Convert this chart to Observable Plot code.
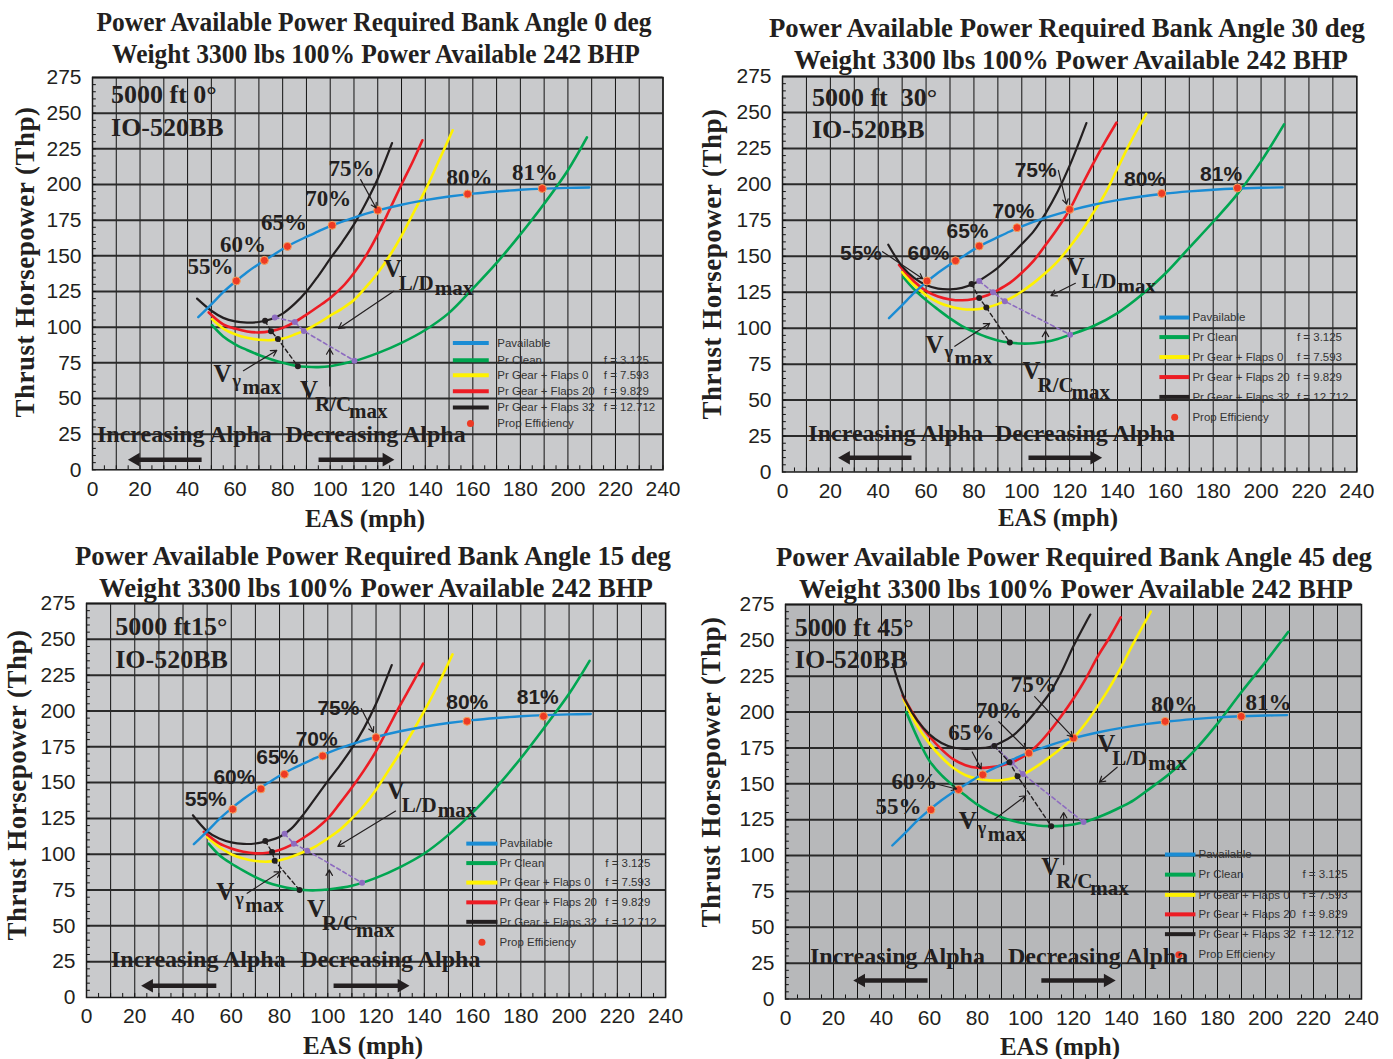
<!DOCTYPE html>
<html><head><meta charset="utf-8">
<script src="https://cdn.jsdelivr.net/npm/d3@7"></script>
<script src="https://cdn.jsdelivr.net/npm/@observablehq/plot@0.6"></script>
<style>
body{margin:0;background:#fff;}
#root{position:relative;width:1393px;height:1059px;overflow:hidden;background:#fff;}
.t{position:absolute;white-space:nowrap;font-family:"Liberation Serif","Times New Roman",serif;font-weight:bold;color:#231f20;line-height:1;}
.title{font-size:28px;}
.ylab{font-size:27px;transform:translate(-50%,-50%) rotate(-90deg);letter-spacing:0.5px;}
.xlab{font-size:25px;transform:translate(-50%,-50%);}
</style></head>
<body><div id="root"></div>
<script>
// ---------- shared values ----------
const speedTicks = d3.range(0, 241, 20);
const thpTicks = d3.range(0, 276, 25);
const pctLabels = ["55%","60%","65%","70%","75%","80%","81%"];
const legendNames = ["Pavailable","Pr Clean","Pr Gear + Flaps 0","Pr Gear + Flaps 20","Pr Gear + Flaps 32","Prop Efficiency"];
const legendF = ["","f = 3.125","f = 7.593","f = 9.829","f = 12.712",""];
const titleLine2 = "Weight 3300 lbs 100% Power Available 242 BHP";

// Power available (same in all panels) [EAS mph, Thp]
const pavail = [[44.5,107],[50,116],[55,124.5],[60,131.8],[65,138.5],[70,144.3],[75,149.5],[80,154.8],[85,159.3],[90,163.3],[95,167.2],[100,170.8],[110,176.8],[120,181.8],[130,185.8],[140,189],[150,191.6],[160,193.6],[170,195.1],[180,196.3],[190,197.1],[200,197.6],[209,197.9]];

// ---------- Bank 0 deg ----------
const b0Clean = [[50.3,101.4],[55,93.5],[60,88],[65,84],[70,80.5],[75,77.5],[80,75],[86,72.8],[90,72.2],[95,72],[100,72.6],[110,76.2],[120,81.8],[130,89],[140,98],[150,110],[160,127],[170,145],[180,165],[190,186.5],[200,210],[208,233]];
const b0Gear0 = [[50.3,105.6],[55,99],[60,95],[65,92.5],[70,91.2],[75,90.9],[80,92],[85,94.8],[90,98.3],[95,102.8],[100,108],[105,113],[110,119],[115,128],[120,138],[125,150],[130,164],[135,180],[140,196],[145,214],[151.5,238]];
const b0Gear20 = [[48.9,110.3],[55,102],[60,99],[65,97],[70,96.3],[75,97.2],[80,99.5],[85,103.5],[90,108.8],[95,114.5],[100,120.5],[105,128],[110,138],[115,150],[120,165],[125,182.5],[130,200],[135,217],[138.8,231]];
const b0Gear32 = [[44,120],[50,111.5],[55,106.5],[60,104],[65,103.2],[70,103.6],[75,105.5],[80,109.5],[85,116.3],[90,125],[95,136],[100,148],[105,159.5],[110,172],[115,187],[120,204],[126,229]];
const b0Vg = [[72.6,104.4],[75.1,97.2],[78,91.7],[86.4,72.5]];
const b0Vrc = [[76.7,106.8],[85.1,103.6],[88.9,97.3],[110.2,76.4]];
const b0Vld = [[85.1,116.5],[90.6,109.5],[95.5,103.3],[120.7,82.2]];
const b0Eff = [[60.5,132.4],[72.3,146.8],[82,156.6],[100.8,171.4],[120,182],[157.8,193.3],[189.2,197.2]];

// ---------- Bank 30 deg ----------
const b30Clean = [[50.4,135.6],[55,127],[60,119.5],[65,113],[70,106.8],[75,101.5],[80,97.5],[85,94],[90,91.5],[95,90],[100,89.3],[105,89.5],[110,90.5],[115,92.5],[120,95.3],[130,101.5],[140,110.5],[150,123],[160,138],[170,156],[180,174],[190,193],[200,216],[209.6,241.7]];
const b30Gear0 = [[50,139],[55,130],[60,123],[65,118],[70,115],[75,113.3],[80,113],[85,114.2],[90,116.7],[95,120.5],[100,125.5],[105,131.5],[110,138.5],[115,146.5],[120,156.4],[125,167.5],[130,180.5],[135,194],[140,211],[145,228],[152,249]];
const b30Gear20 = [[48.7,144],[55,132.5],[60,126],[65,122],[70,120],[75,119.4],[80,120.3],[85,122.5],[90,126.5],[95,131.5],[100,138.5],[105,147],[110,158],[115,169.5],[120,182.5],[125,199],[130,215],[135,230],[139.6,243]];
const b30Gear32 = [[44.2,158],[50,143],[55,135],[60,130],[65,127.5],[70,127],[75,128],[80,131],[85,136],[90,142],[95,150],[100,158.5],[105,167.5],[110,180],[115,195],[120,213],[127,242.6]];
const b30Vg = [[79,130.8],[82.2,121],[85.2,114.3],[95,90]];
const b30Vrc = [[82.2,132.8],[88,124.9],[92.9,118.7],[120.2,95.5]];
const b30Vld = [[91.8,144.9],[97.8,136.5],[103.3,129.1],[130.2,101.5]];
const b30Eff = [[60.4,132.8],[72.3,146.9],[82.2,157.1],[98,169.9],[120,182.6],[158.5,193.7],[190.1,197.5]];

// ---------- Bank 15 deg ----------
const b15Clean = [[50.6,107.4],[55,99.5],[60,93.5],[65,88.5],[70,84],[75,80.3],[80,77.8],[85,76],[90,75],[95,74.8],[100,75.4],[110,78],[120,83.5],[130,91],[140,100.5],[150,113.5],[160,129],[170,147],[180,167],[190,189],[200,212],[208.5,235]];
const b15Gear0 = [[50,112],[55,105],[60,100],[65,97],[70,95.3],[75,94.8],[80,95.8],[85,98.3],[90,101.5],[95,105.5],[100,111],[105,117],[110,125],[115,134],[120,145],[125,158],[130,171],[135,185],[140,200],[145,216],[151.7,239.5]];
const b15Gear20 = [[48.6,115.6],[55,107.5],[60,104],[65,101.7],[70,100.6],[75,101],[80,103],[85,106.5],[90,111.5],[95,117.5],[100,125],[105,135.5],[110,146.5],[115,158.5],[120,172],[125,188],[130,204],[135,219],[139.5,233]];
const b15Gear32 = [[44.1,127.2],[50,116],[55,111],[60,108.3],[65,107.2],[70,107.5],[75,109.3],[80,112],[85,118],[90,128],[95,139.5],[100,151],[105,162],[110,174],[115,188],[120,205],[126.5,232]];
const b15Vg = [[74.1,109.2],[76.9,101.5],[78,95.4],[88.3,75]];
const b15Vrc = [[82.1,114.3],[85.9,107.3],[91.5,102.5],[114.2,80]];
const b15Vld = [[86.5,121.2],[92.1,114.4],[97.3,108.2],[122.9,85.1]];
const b15Eff = [[60.6,131.4],[72.3,145.6],[82,155.8],[97.9,168.6],[120,181.4],[157.7,192.8],[189.4,196.3]];

// ---------- Bank 45 deg ----------
const b45Clean = [[50.3,200],[55,182],[60,166],[65,156],[70,148.5],[75,141.8],[80,135.5],[85,130.5],[90,126.8],[95,124],[100,122.3],[105,121],[110,120.5],[115,120.7],[120,121.7],[125,123.5],[130,126.5],[135,130],[140,134],[145,138.5],[150,144.5],[160,157],[170,172.5],[180,192],[190,214],[200,235],[209.5,256]];
const b45Gear0 = [[49.2,209],[55,190],[60,178],[65,168.5],[70,161],[75,156],[80,153.5],[85,152.4],[90,152.5],[95,154],[100,157.5],[105,162.5],[110,168.5],[115,175],[120,182],[125,192],[130,204],[135,217],[140,232],[145,248],[152.2,270]];
const b45Gear20 = [[48.8,211.6],[55,194],[60,183],[65,174],[70,167],[75,163],[80,161.2],[85,161.5],[90,162.8],[95,165.5],[100,170],[105,177],[110,186.5],[115,197.5],[120,209.5],[125,223],[130,238.5],[135,252],[139.7,266]];
const b45Gear32 = [[44.7,233.5],[47,221],[50,208],[55,194],[60,184.5],[65,178.5],[70,175.3],[75,174.4],[80,174.7],[85,175.6],[90,179],[95,184],[100,192],[105,202],[110,213],[115,228],[120,246],[125,262],[127,268]];
const b45Vg = [[87,176.3],[93.3,165],[96.7,155.3],[110.7,120.5]];
const b45Vrc = [[87,176.3],[94.3,164.8],[98.9,156.9],[124.2,123.3]];
const b45Vld = [[101.7,195.3],[108,183],[114,174],[144.3,137.2]];
const b45Eff = [[60.6,131.9],[72.1,146],[82.2,156.3],[101.4,171.4],[120,181.9],[158.2,193.5],[189.9,197]];

// ---------- colours ----------
const C = {blue:"#1a8cd4", green:"#00a651", yellow:"#fff200", red:"#ed1c24", black:"#231f20", purple:"#8e6cc0", eff:"#ee3a24"};
const legendColors = [C.blue, C.green, C.yellow, C.red, C.black];

// ---------- panel layouts & annotations ----------
const panels = [
 { bank:"0", box:[92,662.5,77.3,469.6], bg:"#c9cacc", titleScale:0.91,
   clean:b0Clean, g0:b0Gear0, g20:b0Gear20, g32:b0Gear32, vg:b0Vg, vrc:b0Vrc, vld:b0Vld, eff:b0Eff,
   titleC:[[373.5,22],[376,54]], ylab:[25,262], xlab:[365,518],
   pctFont:"serif", pctSize:23,
   pct:[[49.6,137],[63.3,152.4],[80.6,167.9],[99.2,185.2],[109,205.8],[158.6,199.9],[186.1,203.4]],
   pctArrows:[[112.8,203.4,119.3,183.5]],
   eng:["5000 ft 0°",7.8,256.8,234.2],
   vld:[122.5,135.5], vgL:[50.9,61.2], vrcL:[87.3,50.5],
   vArrows:[[126.7,125.2,103.5,99.1],[63.5,69.5,77.5,83.7],[99.8,58.8,99.8,84.9]],
   alpha:{inc:1.9, dec:81.2, y:19.7, left:[45.9,15.2], right:[95.1,126.7], ay:7.1},
   legend:{s0:151.6, s1:166.7, tx:170.3, fx:215.1, dot:159, rows:[88.9,76.8,66.3,55.1,43.7,32.5]} },
 { bank:"30", box:[782,1356.3,76.1,471.6], bg:"#c9cacc", titleScale:0.955,
   clean:b30Clean, g0:b30Gear0, g20:b30Gear20, g32:b30Gear32, vg:b30Vg, vrc:b30Vrc, vld:b30Vld, eff:b30Eff,
   titleC:[[1067,28],[1071,60]], ylab:[712,264], xlab:[1058,517],
   pctFont:"sans", pctSize:21,
   pct:[[32.8,147.4],[61,147.4],[77.3,162.7],[96.5,176.8],[105.8,205],[151.5,199.1],[183.3,202.6]],
   pctArrows:[[41.8,153.2,58.6,134.4],[115.3,209.7,118.7,186.2]],
   eng:["5000 ft  30°",12.3,254.3,232],
   vld:[118.7,136.8], vgL:[59.8,83], vrcL:[100.3,64.5],
   vArrows:[[122.4,131.2,112.2,122.7],[72,87.4,86.6,103.4],[109.9,72.2,109.9,98]],
   alpha:{inc:10.8, dec:88.8, y:21.6, left:[53.9,23.5], right:[102.8,133.3], ay:9.9},
   legend:{s0:157.5, s1:170, tx:171.3, fx:215, dot:163.9, rows:[107.4,93.8,79.9,66,52.2,38.1]} },
 { bank:"15", box:[86.2,665.3,603.3,997.3], bg:"#c9cacc", titleScale:0.955,
   clean:b15Clean, g0:b15Gear0, g20:b15Gear20, g32:b15Gear32, vg:b15Vg, vrc:b15Vrc, vld:b15Vld, eff:b15Eff,
   titleC:[[373,556],[376,588]], ylab:[17,785], xlab:[363,1045],
   pctFont:"sans", pctSize:21,
   pct:[[49.4,133.6],[61.3,148.9],[79.1,163],[95.4,175.8],[104.4,197],[157.8,201.6],[187,205.2]],
   pctArrows:[[113.9,201.6,118.9,185.2]],
   eng:["5000 ft15°",11.9,252.8,230.2],
   vld:[124.4,138.3], vgL:[53.8,68], vrcL:[91.4,56.3],
   vArrows:[[128.1,130.1,104.2,105.5],[66.6,72.7,80.4,87.9],[100.6,57.4,100.6,89.1]],
   alpha:{inc:10.1, dec:88.6, y:21.1, left:[53.8,22.9], right:[102.4,133.6], ay:8.2},
   legend:{s0:157.4, s1:170.3, tx:171.2, fx:215, dot:163.9, rows:[107.4,93.8,80.2,66.4,52.8,38.5]} },
 { bank:"45", box:[785.3,1361.3,604.1,998.6], bg:"#b7b8ba", titleScale:0.955,
   clean:b45Clean, g0:b45Gear0, g20:b45Gear20, g32:b45Gear32, vg:b45Vg, vrc:b45Vrc, vld:b45Vld, eff:b45Eff,
   titleC:[[1074,557],[1076,589]], ylab:[711,772], xlab:[1060,1046],
   pctFont:"serif", pctSize:23,
   pct:[[47.1,128.8],[53.8,146.4],[77.4,180.4],[88.9,195.6],[103.4,214.3],[162,200.3],[201.3,201.5]],
   pctArrows:[[62.9,149.9,71.3,146.4],[77.8,172.2,81.5,160.5],[88.9,193.3,100.1,174.5],[103.8,210.8,119.6,182.7]],
   eng:["5000 ft 45°",3.9,253,230.7],
   vld:[129.9,172.2], vgL:[72.2,118.3], vrcL:[106.6,86.7],
   vArrows:[[138.2,161.6,130.8,151.1],[87.1,125.3,100.1,141.7],[115.9,93.7,115.9,130]],
   alpha:{inc:10.2, dec:92.7, y:24.6, left:[59.2,28.5], right:[106.6,137.3], ay:12.9},
   legend:{s0:158.1, s1:170.8, tx:172.1, fx:215.4, dot:163.9, rows:[100.7,86.7,72.6,59,45.2,30.9]} }
];

const SERIF = "Liberation Serif, Times New Roman, serif";
const SANS = "Liberation Sans, Arial, Helvetica, sans-serif";
const root = document.getElementById("root");

function addDiv(text, cls, cx, cy, transform) {
  const d = document.createElement("div");
  d.className = "t " + cls;
  d.textContent = text;
  d.style.left = cx + "px";
  d.style.top = cy + "px";
  if (transform) d.style.transform = transform;
  root.appendChild(d);
}

function vLabel(pos, sub, subSize, subDx, subDy, maxDx, maxDy) {
  const base = {x: d => d[0], y: d => d[1], textAnchor: "start", lineAnchor: "bottom",
    fontFamily: SERIF, fontWeight: "bold", fill: C.black};
  return [
    Plot.text([pos], {...base, text: () => "V", fontSize: 25}),
    Plot.text([pos], {...base, text: () => sub, fontSize: subSize, dx: subDx, dy: subDy}),
    Plot.text([pos], {...base, text: () => "max", fontSize: 21, dx: maxDx, dy: maxDy})
  ];
}

function buildPanel(p) {
  const [x0, x1, yT, yB] = p.box;
  const mL = 75, mR = 30, mT = 16, mB = 46;
  const W = x1 - x0 + mL + mR, H = yB - yT + mT + mB;
  const xy = {x: d => d[0], y: d => d[1]};
  const curve = "catmull-rom";
  const seg = {x1: d => d[0], y1: d => d[1], x2: d => d[2], y2: d => d[3]};
  const L = p.legend;
  const lineRows = L.rows.slice(0, 5).map((y, i) => ({y, c: legendColors[i]}));
  const textRows = L.rows.map((y, i) => ({y, name: legendNames[i], f: legendF[i]}));
  const pctFam = p.pctFont === "serif" ? SERIF : SANS;
  const A = p.alpha;
  // big direction arrows: shaft + filled triangular head
  const shafts = [[A.left[0], A.ay, A.left[1] + 3, A.ay], [A.right[0], A.ay, A.right[1] - 3, A.ay]];
  const heads = [[A.left[1] + 3, A.ay, -90], [A.right[1] - 3, A.ay, 90]];

  const marks = [
    Plot.frame({fill: p.bg}),
    Plot.ruleX(d3.range(0, 241, 10), {stroke: "#111", strokeWidth: 1}),
    Plot.ruleY(d3.range(25, 276, 25), {stroke: "#2a2a2a", strokeWidth: 2}),
    Plot.ruleX(d3.range(0, 241, 5), {y1: 0, y2: 2.8, stroke: "#111"}),
    Plot.ruleY(d3.range(0, 276, 5), {x1: 0, x2: 1.6, stroke: "#111"}),
    Plot.frame({stroke: "#1a1a1a", strokeWidth: 1.5}),
    Plot.axisX({ticks: speedTicks, tickSize: 0, tickPadding: 11, fontSize: 21, fontFamily: SANS, label: null}),
    Plot.axisY({ticks: thpTicks, tickSize: 0, tickPadding: 11, fontSize: 21, fontFamily: SANS, label: null}),

    // legend
    Plot.link(lineRows, {x1: () => L.s0, x2: () => L.s1, y1: d => d.y, y2: d => d.y, stroke: d => d.c, strokeWidth: 4}),
    Plot.dot([L.rows[5]], {x: () => L.dot, y: d => d, r: 3.5, fill: C.eff}),
    Plot.text(textRows, {x: () => L.tx, y: d => d.y, text: d => d.name, textAnchor: "start", fontSize: 11.5, fontFamily: SANS, fill: "#333"}),
    Plot.text(textRows, {x: () => L.fx, y: d => d.y, text: d => d.f, textAnchor: "start", fontSize: 11.5, fontFamily: SANS, fill: "#333"}),

    // curves
    Plot.line(p.clean, {...xy, stroke: C.green, strokeWidth: 2.6, curve}),
    Plot.line(p.g0, {...xy, stroke: C.yellow, strokeWidth: 2.6, curve}),
    Plot.line(p.g20, {...xy, stroke: C.red, strokeWidth: 2.6, curve}),
    Plot.line(p.g32, {...xy, stroke: C.black, strokeWidth: 2.2, curve}),
    Plot.line(pavail, {...xy, stroke: C.blue, strokeWidth: 2.4, curve}),

    // optimum-speed loci
    Plot.line(p.vld, {...xy, stroke: C.blue, strokeWidth: 1.6, strokeDasharray: "4,3"}),
    Plot.dot(p.vld, {...xy, r: 3, fill: C.blue}),
    Plot.line(p.vrc, {...xy, stroke: C.purple, strokeWidth: 1.6, strokeDasharray: "4,3"}),
    Plot.dot(p.vrc, {...xy, r: 3, fill: C.purple}),
    Plot.line(p.vg, {...xy, stroke: C.black, strokeWidth: 1.4, strokeDasharray: "4,3"}),
    Plot.dot(p.vg, {...xy, r: 3, fill: C.black}),

    // propeller efficiency
    Plot.dot(p.eff, {...xy, r: 4, fill: C.eff, stroke: "#f4a05a", strokeWidth: 1}),
    Plot.text(p.pct, {...xy, text: (d, i) => pctLabels[i], textAnchor: "middle", lineAnchor: "bottom",
      fontSize: p.pctSize, fontFamily: pctFam, fontWeight: "bold", fill: C.black}),
    Plot.arrow(p.pctArrows, {...seg, stroke: C.black, strokeWidth: 1.2, headLength: 7}),

    // V labels
    ...vLabel(p.vld, "L/D", 21, 15, 13, 51, 18),
    ...vLabel(p.vgL, "γ", 18, 19, 5, 29, 12),
    ...vLabel(p.vrcL, "R/C", 21, 15, 13, 49, 20),
    Plot.arrow(p.vArrows, {...seg, stroke: C.black, strokeWidth: 1.2, headLength: 8}),

    // engine / altitude
    Plot.text([[p.eng[1], p.eng[2], p.eng[0]], [p.eng[1], p.eng[3], "IO-520BB"]],
      {...xy, text: d => d[2], textAnchor: "start", lineAnchor: "bottom", fontSize: 26, fontFamily: SERIF, fontWeight: "bold", fill: C.black}),

    // alpha
    Plot.text([[A.inc, A.y, "Increasing Alpha"], [A.dec, A.y, "Decreasing Alpha"]],
      {...xy, text: d => d[2], textAnchor: "start", lineAnchor: "bottom", fontSize: 24, fontFamily: SERIF, fontWeight: "bold", fill: C.black}),
    Plot.link(shafts, {...seg, stroke: C.black, strokeWidth: 4.5}),
    Plot.dot(heads, {...xy, rotate: d => d[2], symbol: "triangle2", r: 6.5, fill: C.black})
  ];

  const plot = Plot.plot({
    width: W, height: H, marginLeft: mL, marginRight: mR, marginTop: mT, marginBottom: mB,
    x: {domain: [0, 240]}, y: {domain: [0, 275]},
    style: {background: "transparent", overflow: "visible", color: "#231f20"},
    marks
  });
  plot.style.position = "absolute";
  plot.style.left = (x0 - mL) + "px";
  plot.style.top = (yT - mT) + "px";
  root.appendChild(plot);

  const tt = `translate(-50%,-50%) scaleX(${p.titleScale})`;
  addDiv("Power Available Power Required Bank Angle " + p.bank + " deg", "title", p.titleC[0][0], p.titleC[0][1], tt);
  addDiv(titleLine2, "title", p.titleC[1][0], p.titleC[1][1], tt);
  addDiv("Thrust Horsepower (Thp)", "ylab", p.ylab[0], p.ylab[1]);
  addDiv("EAS (mph)", "xlab", p.xlab[0], p.xlab[1]);
}

panels.forEach(buildPanel);
</script>
</body></html>
